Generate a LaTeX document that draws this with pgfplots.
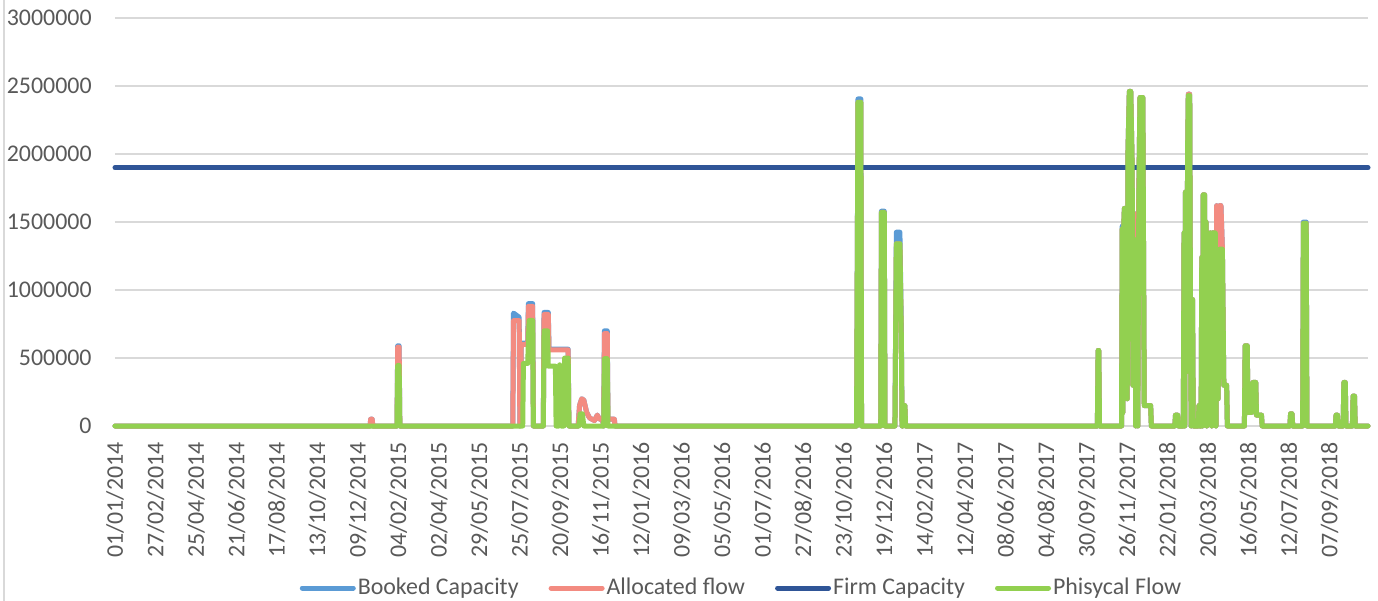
\documentclass[border=0pt]{standalone}
\usepackage{fontspec}
\setmainfont{Carlito}
\usepackage{pgfplots}
\pgfplotsset{compat=1.18}

\definecolor{bookedblue}{RGB}{91,155,213}
\definecolor{allocred}{RGB}{243,139,129}
\definecolor{firmblue}{RGB}{47,85,151}
\definecolor{physgreen}{RGB}{146,208,80}
\definecolor{gridgray}{RGB}{217,217,217}
\definecolor{textgray}{RGB}{89,89,89}

\begin{document}
\begin{tikzpicture}[font=\fontsize{12}{14}\selectfont]
\begin{axis}[
  width=626.5bp, height=204bp, scale only axis,
  xmin=0, xmax=1764, ymin=0, ymax=3000000,
  clip=false,
  axis line style={draw=none},
  major tick length=0pt,
  ymajorgrids,
  grid style={gridgray, line width=1bp},
  xtick={0,57,114,171,228,285,342,399,456,513,570,627,684,741,798,855,912,969,1026,1083,1140,1197,1254,1311,1368,1425,1482,1539,1596,1653,1710},
  xticklabels={01/01/2014,27/02/2014,25/04/2014,21/06/2014,17/08/2014,13/10/2014,09/12/2014,04/02/2015,02/04/2015,29/05/2015,25/07/2015,20/09/2015,16/11/2015,12/01/2016,09/03/2016,05/05/2016,01/07/2016,27/08/2016,23/10/2016,19/12/2016,14/02/2017,12/04/2017,08/06/2017,04/08/2017,30/09/2017,26/11/2017,22/01/2018,20/03/2018,16/05/2018,12/07/2018,07/09/2018},
  ytick={0,500000,1000000,1500000,2000000,2500000,3000000},
  yticklabels={0,500000,1000000,1500000,2000000,2500000,3000000},
  scaled y ticks=false,
  xticklabel style={rotate=90, anchor=east, inner sep=0pt, text=textgray},
  xticklabel shift=8bp,
  yticklabel style={anchor=east, inner sep=0pt, text=textgray, xshift=-11.5bp},
  every axis plot/.append style={line width=2.5bp, line join=round, line cap=round},
  legend image code/.code={\draw[#1] (0bp,0bp) -- (25.5bp,0bp);},
  legend style={at={(rel axis cs:0.5,0)}, anchor=center, yshift=-81bp,
    draw=none, fill=none, inner sep=0pt, text=textgray,
    nodes={inner sep=1bp},
    /tikz/every even column/.append style={column sep=14bp}},
  legend columns=4,
]
% Booked Capacity
\addplot[bookedblue] coordinates {
(0,0) (359,0) (360,50000) (362,50000) (363,0)
(397,0) (398,590000) (400,590000) (401,0)
(560,0) (561,830000) (569,800000) (570,0) (572,610000) (581,610000) (582,900000) (588,900000) (589,0)
(603,0) (604,835000) (610,835000) (611,565000) (638,565000) (639,0)
(652,0) (654,150000) (657,200000) (660,190000) (664,100000) (668,60000) (675,40000) (679,80000) (682,50000) (686,50000) (688,0)
(689,700000) (693,700000) (694,50000) (703,50000) (704,0)
(1044,0) (1046,2405000) (1050,2405000) (1051,0)
(1078,0) (1079,1580000) (1083,1580000) (1084,0)
(1098,0) (1100,1425000) (1105,1425000) (1107,720000) (1108,0) (1109,0) (1110,150000) (1112,150000) (1113,0)
(1383,0) (1384,555000) (1385,555000) (1386,0)
(1417,0) (1418,1470000) (1419,100000) (1420,1450000) (1421,1600000) (1422,300000) (1423,1600000) (1424,1600000) (1425,200000) (1426,2000000) (1428,2460000) (1430,2460000) (1432,1900000) (1433,300000) (1434,1560000) (1436,1560000) (1437,0) (1438,1560000) (1440,0) (1441,1560000) (1442,2000000) (1443,2415000) (1446,2415000) (1447,2415000) (1449,150000) (1458,150000) (1459,0)
(1492,0) (1493,80000) (1496,80000) (1497,0)
(1504,0) (1505,1420000) (1506,0) (1507,1720000) (1508,1720000) (1509,400000) (1510,2000000) (1511,2440000) (1513,2440000) (1514,930000) (1515,0) (1516,930000) (1517,930000) (1518,0)
(1525,0) (1526,150000) (1527,0) (1529,0) (1530,1240000) (1531,0) (1532,1700000) (1534,1700000) (1535,500000) (1536,1500000) (1537,0) (1538,370000) (1541,370000)
(1542,1420000) (1544,0) (1545,1420000) (1549,1420000) (1550,0) (1551,1620000) (1553,200000) (1555,1620000) (1557,1620000) (1559,1300000) (1561,300000) (1565,300000) (1566,0)
(1590,0) (1591,590000) (1594,590000) (1595,100000) (1600,100000) (1602,320000) (1606,320000) (1607,80000) (1614,80000) (1615,0)
(1654,0) (1655,90000) (1657,90000) (1658,0)
(1672,0) (1673,1500000) (1677,1500000) (1678,0)
(1718,0) (1719,80000) (1721,80000) (1722,0)
(1729,0) (1730,320000) (1732,320000) (1733,0)
(1742,0) (1743,220000) (1745,220000) (1746,0) (1764,0)
};
\addlegendentry{Booked Capacity}
% Allocated flow
\addplot[allocred] coordinates {
(0,0) (359,0) (360,50000) (362,50000) (363,0)
(397,0) (398,580000) (400,580000) (401,0)
(560,0) (561,775000) (569,775000) (570,0) (572,600000) (581,600000) (582,880000) (588,880000) (589,0)
(603,0) (604,820000) (610,820000) (611,560000) (638,560000) (639,0)
(652,0) (654,150000) (657,200000) (660,190000) (664,100000) (668,60000) (675,40000) (679,80000) (682,50000) (686,50000) (688,0)
(689,680000) (693,680000) (694,50000) (703,50000) (704,0)
(1044,0) (1046,2380000) (1050,2380000) (1051,0)
(1078,0) (1079,1570000) (1083,1570000) (1084,0)
(1098,0) (1100,1340000) (1105,1340000) (1107,650000) (1108,0) (1109,0) (1110,150000) (1112,150000) (1113,0)
(1383,0) (1384,555000) (1385,555000) (1386,0)
(1417,0) (1418,1450000) (1419,100000) (1420,1450000) (1421,1600000) (1422,300000) (1423,1600000) (1424,1600000) (1425,200000) (1426,2000000) (1428,2460000) (1430,2460000) (1432,1900000) (1433,300000) (1434,1560000) (1436,1560000) (1437,0) (1438,1560000) (1440,0) (1441,1560000) (1442,2000000) (1443,2415000) (1446,2415000) (1447,2415000) (1449,150000) (1458,150000) (1459,0)
(1492,0) (1493,80000) (1496,80000) (1497,0)
(1504,0) (1505,1420000) (1506,0) (1507,1720000) (1508,1720000) (1509,400000) (1510,2000000) (1511,2440000) (1513,2440000) (1514,930000) (1515,0) (1516,930000) (1517,930000) (1518,0)
(1525,0) (1526,150000) (1527,0) (1529,0) (1530,1240000) (1531,0) (1532,1700000) (1534,1700000) (1535,500000) (1536,1500000) (1537,0) (1538,370000) (1541,370000)
(1542,1420000) (1544,0) (1545,1420000) (1549,1420000) (1550,0) (1551,1620000) (1553,200000) (1555,1620000) (1557,1620000) (1559,1300000) (1561,300000) (1565,300000) (1566,0)
(1590,0) (1591,590000) (1594,590000) (1595,100000) (1600,100000) (1602,320000) (1606,320000) (1607,80000) (1614,80000) (1615,0)
(1654,0) (1655,90000) (1657,90000) (1658,0)
(1672,0) (1673,1490000) (1677,1490000) (1678,0)
(1718,0) (1719,80000) (1721,80000) (1722,0)
(1729,0) (1730,320000) (1732,320000) (1733,0)
(1742,0) (1743,220000) (1745,220000) (1746,0) (1764,0)
};
\addlegendentry{Allocated flow}
% Firm Capacity
\addplot[firmblue] coordinates {(0,1900000) (1764,1900000)};
\addlegendentry{Firm Capacity}
% Phisycal Flow
\addplot[physgreen] coordinates {
(0,0) (397,0) (398,445000) (400,445000) (401,0)
(574,0) (575,460000) (581,460000) (583,776000) (588,776000) (589,0)
(603,0) (604,700000) (609,700000) (610,440000) (620,440000) (621,0) (625,0) (626,450000) (628,0) (632,0) (633,500000) (638,500000) (639,0)
(653,0) (655,90000) (658,90000) (660,0)
(688,0) (689,495000) (693,495000) (694,0)
(1044,0) (1046,2380000) (1050,2380000) (1051,0)
(1078,0) (1079,1570000) (1083,1570000) (1084,0)
(1098,0) (1100,1340000) (1105,1340000) (1107,650000) (1108,0) (1109,0) (1110,150000) (1112,150000) (1113,0)
(1383,0) (1384,555000) (1385,555000) (1386,0)
(1417,0) (1418,1450000) (1419,100000) (1420,1450000) (1421,1600000) (1422,300000) (1423,1600000) (1424,1600000) (1425,200000) (1426,2000000) (1428,2460000) (1430,2460000) (1432,1900000) (1433,300000) (1434,1370000) (1436,1370000) (1437,0) (1438,1370000) (1440,0) (1441,1370000) (1442,2000000) (1443,2415000) (1446,2415000) (1447,2415000) (1449,150000) (1458,150000) (1459,0)
(1492,0) (1493,80000) (1496,80000) (1497,0)
(1504,0) (1505,1420000) (1506,0) (1507,1720000) (1508,1720000) (1509,400000) (1510,2000000) (1511,2430000) (1513,2430000) (1514,930000) (1515,0) (1516,930000) (1517,930000) (1518,0)
(1525,0) (1526,150000) (1527,0) (1529,0) (1530,1240000) (1531,0) (1532,1700000) (1534,1700000) (1535,500000) (1536,1500000) (1537,0) (1538,370000) (1541,370000)
(1542,1420000) (1544,0) (1545,1420000) (1549,1420000) (1550,0) (1551,1300000) (1553,200000) (1555,1300000) (1559,1300000) (1561,300000) (1565,300000) (1566,0)
(1590,0) (1591,590000) (1594,590000) (1595,100000) (1600,100000) (1602,320000) (1606,320000) (1607,80000) (1614,80000) (1615,0)
(1654,0) (1655,90000) (1657,90000) (1658,0)
(1672,0) (1673,1490000) (1677,1490000) (1678,0)
(1718,0) (1719,80000) (1721,80000) (1722,0)
(1729,0) (1730,320000) (1732,320000) (1733,0)
(1742,0) (1743,220000) (1745,220000) (1746,0) (1764,0)
};
\addlegendentry{Phisycal Flow}
\coordinate (sw) at (rel axis cs:0,0);
\coordinate (ne) at (rel axis cs:1,1);
\end{axis}
\draw[gridgray, line width=1bp] ([xshift=-55.5bp,yshift=-95bp]sw) -- ([xshift=-55.5bp,yshift=215bp]sw);
\pgfresetboundingbox
\path[use as bounding box] ([xshift=-57.5bp,yshift=-87.5bp]sw) rectangle ([xshift=5bp,yshift=9bp]ne);
\end{tikzpicture}
\end{document}
